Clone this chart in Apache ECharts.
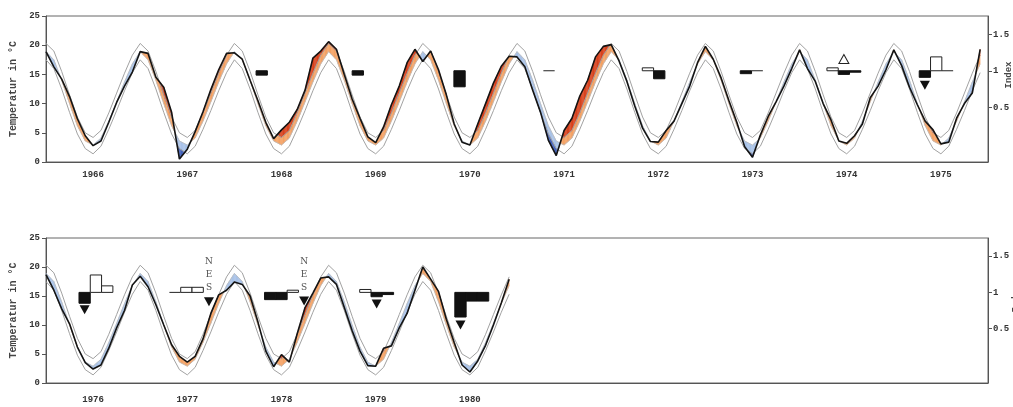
<!DOCTYPE html>
<html>
<head>
<meta charset="utf-8">
<script src="https://cdn.jsdelivr.net/npm/echarts@6/dist/echarts.min.js"></script>
<style>
html,body{margin:0;padding:0;background:#fff}
#main{width:1013px;height:407px}
</style>
</head>
<body>
<div id="main"></div>
<script>
// monthly climatology (k=0 at the year tick)
var climMean  = [18.9, 17.5, 14.0, 10.0, 6.2, 3.6, 2.9, 4.1, 7.0, 10.3, 13.7, 16.8];
var climUpper = [20.3, 19.0, 15.5, 11.5, 7.7, 5.0, 4.2, 5.4, 8.4, 11.8, 15.2, 18.3];
var climLower = [17.5, 16.0, 12.5, 8.5, 4.8, 2.3, 1.4, 2.7, 5.6, 8.8, 12.2, 15.3];

var yearsTop = ['1966','1967','1968','1969','1970','1971','1972','1973','1974','1975'];
var yearsBottom = ['1976','1977','1978','1979','1980','1981','1982','1983','1984','1985'];
var labelsBottom = ['1976','1977','1978','1979','1980'];

var indexTicks = [0.5, 1, 1.5];

// observed monthly temperature
var obsTop = [
  18.9, 16.3, 14.2, 11.2, 7.4, 4.5, 2.8, 3.6, 6.8, 10.2, 13.0, 15.4,   // 1966
  18.9, 18.6, 14.5, 12.8, 8.5, 0.5, 2.2, 5.2, 8.6, 12.4, 15.8, 18.6,   // 1967
  18.7, 17.6, 14.0, 10.5, 6.8, 4.0, 5.5, 6.8, 9.0, 12.3, 17.8, 19.0,   // 1968
  20.6, 19.3, 15.0, 10.8, 7.5, 4.3, 3.3, 6.0, 9.8, 13.0, 17.0, 19.3,   // 1969
  17.2, 19.0, 15.8, 11.5, 6.5, 3.4, 2.9, 6.5, 10.0, 13.5, 16.4, 18.1,  // 1970
  18.0, 16.3, 12.3, 8.5, 3.7, 1.1, 5.4, 7.5, 11.3, 14.0, 18.0, 19.8,   // 1971
  20.1, 17.3, 13.8, 9.6, 5.8, 3.5, 3.4, 5.4, 7.0, 10.0, 13.0, 17.0,    // 1972
  19.8, 17.6, 14.4, 10.5, 6.8, 2.6, 0.8, 4.6, 7.8, 10.3, 13.0, 16.0,   // 1973
  19.2, 16.0, 13.8, 10.0, 7.2, 3.6, 3.2, 4.5, 6.5, 11.0, 13.0, 15.8,   // 1974
  19.2, 16.5, 12.8, 9.8, 7.0, 5.5, 3.1, 3.4, 7.5, 10.0, 11.8, 19.3     // 1975
];
var obsBottom = [
  18.7, 16.0, 12.8, 10.2, 6.2, 3.5, 2.4, 3.1, 6.0, 9.5, 12.5, 16.9,    // 1976
  18.4, 16.6, 13.5, 10.0, 6.6, 4.6, 3.6, 4.6, 7.6, 12.0, 15.2, 16.0,   // 1977
  17.4, 17.0, 15.0, 10.5, 5.5, 2.8, 4.9, 3.6, 8.5, 13.0, 15.5, 18.1,   // 1978
  18.3, 17.0, 13.0, 9.0, 5.5, 3.0, 2.9, 6.0, 6.4, 9.5, 12.0, 16.0,     // 1979
  20.0, 17.9, 15.8, 11.0, 7.0, 3.1, 1.9, 3.8, 6.5, 10.0, 13.8, 17.9    // 1980
];

// index glyphs: centre (in years) and three bars (N, E, S)
var glyphXTop = [1968.41, 1969.43, 1970.51, 1971.46, 1972.51, 1973.43, 1974.47, 1975.45];
var glyphBarsTop = [
  [0.94, null, null], [0.94, null, null], [0.78, null, null], [1.0, null, null],
  [1.04, 0.89, null], [null, 0.96, 1.0], [1.04, 0.95, 0.98], [0.91, 1.19, 1.0]
];
var glyphXBottom = [1976.53, 1977.49, 1978.50, 1979.51, 1980.52];
var glyphBarsBottom = [
  [0.85, 1.24, 1.09], [1.0, 1.07, 1.07], [0.90, 0.90, 1.03], [1.04, 0.94, 0.97], [0.66, 0.88, 0.88]
];
// triangles: [glyph, slot, index value, direction]
var triTop = [[6, 1, 1.16, 'up'], [7, 0, 0.80, 'down']];
var triBottom = [[0, 0, 0.76, 'down'], [1, 3, 0.87, 'down'], [2, 3, 0.88, 'down'], [3, 1, 0.84, 'down'], [4, 0, 0.55, 'down']];
var nesGlyphs = [1, 2];
var nesLetters = ['N', 'E', 'S'];
var nesValues = [1.42, 1.24, 1.07];

var barW = 0.12;
var lightWarm = '#f4a164', darkWarm = '#d8431f', lightCold = '#a9c3e8', darkCold = '#4463ba';
var monoFont = 'Liberation Mono';

function monthly(vals, start) {
  var out = [];
  for (var i = 0; i < vals.length; i++) out.push([start + i / 12, vals[i]]);
  return out;
}
function climSeries(clim, start, n) {
  var vals = [];
  for (var i = 0; i < n; i++) vals.push(clim[i % 12]);
  return monthly(vals, start);
}
function fillData(obs, start) {
  var out = [];
  for (var i = 0; i < obs.length - 1; i++) {
    var a = i % 12, b = (i + 1) % 12;
    out.push([start + i / 12, start + (i + 1) / 12, obs[i], obs[i + 1],
      climMean[a], climMean[b], climUpper[a], climUpper[b], climLower[a], climLower[b]]);
  }
  return out;
}

function renderFill(params, api) {
  var v = [];
  for (var d = 0; d < 10; d++) v.push(api.value(d));
  var kids = [], n = 6;
  function at(i, f) { return v[i] + (v[i + 1] - v[i]) * f; }
  function poly(pts, col) {
    return { type: 'polygon', shape: { points: pts.map(function (p) { return api.coord(p); }) },
      style: { fill: col, stroke: col, lineWidth: 0.4 } };
  }
  for (var s = 0; s < n; s++) {
    var fa = s / n, fb = (s + 1) / n;
    var ta = at(0, fa), tb = at(0, fb);
    var oa = at(2, fa), ob = at(2, fb), ma = at(4, fa), mb = at(4, fb);
    var ua = at(6, fa), ub = at(6, fb), la = at(8, fa), lb = at(8, fb);
    var ca = Math.min(Math.max(oa, la), ua), cb = Math.min(Math.max(ob, lb), ub);
    var warm = (oa + ob) > (ma + mb);
    kids.push(poly([[ta, ma], [tb, mb], [tb, cb], [ta, ca]], warm ? lightWarm : lightCold));
    if (Math.abs(oa - ca) > 0.01 || Math.abs(ob - cb) > 0.01)
      kids.push(poly([[ta, ca], [tb, cb], [tb, ob], [ta, oa]], warm ? darkWarm : darkCold));
  }
  return { type: 'group', children: kids };
}

function glyphData(xs, bars) {
  var out = [];
  for (var g = 0; g < xs.length; g++)
    for (var s = 0; s < 3; s++)
      if (bars[g][s] != null) out.push([xs[g], s, bars[g][s]]);
  return out;
}
function renderGlyph(params, api) {
  var c = api.value(0), slot = api.value(1), val = api.value(2);
  var x0 = c + (slot - 1) * barW - barW / 2;
  var p0 = api.coord([x0, 1]), p1 = api.coord([x0 + barW, val]);
  if (Math.abs(val - 1) < 0.005) {
    return { type: 'line', shape: { x1: p0[0], y1: p0[1], x2: p1[0], y2: p0[1] },
      style: { stroke: '#222', lineWidth: 1 } };
  }
  return { type: 'rect',
    shape: { x: p0[0], y: Math.min(p0[1], p1[1]), width: p1[0] - p0[0], height: Math.abs(p1[1] - p0[1]) },
    style: val < 1 ? { fill: '#111', stroke: '#111', lineWidth: 1 } : { fill: '#fff', stroke: '#222', lineWidth: 1 } };
}
function triData(list, xs, dir) {
  return list.filter(function (t) { return t[3] === dir; }).map(function (t) {
    return [xs[t[0]] + (t[1] - 1) * barW, t[2]];
  });
}
function nesData(xs) {
  var out = [];
  nesGlyphs.forEach(function (g) {
    for (var i = 0; i < 3; i++) out.push([xs[g] + 2 * barW, nesValues[i], nesLetters[i]]);
  });
  return out;
}

var axisCol = '#555';
var lblStyle = { fontFamily: monoFont, fontWeight: 'bold', fontSize: 9, color: '#333' };

function panelAxes(grid, cats, min, labels, margin) {
  return [
    { type: 'category', gridIndex: grid, data: cats, boundaryGap: true,
      axisLine: { lineStyle: { color: axisCol } },
      axisTick: { length: 3, lineStyle: { color: axisCol } },
      axisLabel: Object.assign({ margin: margin, interval: 0,
        formatter: function (v) { return labels.indexOf(v) >= 0 ? v : ''; } }, lblStyle),
      splitLine: { show: false } },
    { type: 'value', gridIndex: grid, min: min, max: min + 10, show: false, splitLine: { show: false } }
  ];
}
function panelY(grid) {
  return [
    { type: 'value', gridIndex: grid, min: 0, max: 25, interval: 5, position: 'left',
      name: 'Temperatur in °C', nameLocation: 'middle', nameGap: 28,
      nameTextStyle: { fontFamily: monoFont, fontWeight: 'bold', fontSize: 10, color: '#444' },
      axisLine: { show: true, lineStyle: { color: axisCol } },
      axisTick: { show: true, length: 4, lineStyle: { color: axisCol } },
      axisLabel: Object.assign({ margin: 6 }, lblStyle),
      splitLine: { show: false } },
    { type: 'value', gridIndex: grid, min: -0.25, max: 1.75, position: 'right',
      axisLine: { show: true, lineStyle: { color: axisCol } },
      axisTick: { show: true, length: 4, customValues: indexTicks, lineStyle: { color: axisCol } },
      axisLabel: Object.assign({ margin: 5, customValues: indexTicks }, lblStyle),
      splitLine: { show: false } }
  ];
}

function panelSeries(xVal, yT, yI, obs, start, gx, gbars, tris) {
  var n = obs.length;
  var line = function (data, col, w, z) {
    return { type: 'line', xAxisIndex: xVal, yAxisIndex: yT, data: data, symbol: 'none',
      lineStyle: { color: col, width: w }, z: z, silent: true, animation: false };
  };
  return [
    { type: 'custom', xAxisIndex: xVal, yAxisIndex: yT, data: fillData(obs, start),
      renderItem: renderFill, z: 1, silent: true, animation: false },
    line(climSeries(climUpper, start, n), '#a2a2a2', 1, 2),
    line(climSeries(climLower, start, n), '#a2a2a2', 1, 2),
    line(climSeries(climMean, start, n), '#bbbbbb', 0.8, 2),
    line(monthly(obs, start), '#141414', 1.6, 3),
    { type: 'custom', xAxisIndex: xVal, yAxisIndex: yI, data: glyphData(gx, gbars),
      renderItem: renderGlyph, z: 4, silent: true, animation: false },
    { type: 'scatter', xAxisIndex: xVal, yAxisIndex: yI, data: triData(tris, gx, 'down'),
      symbol: 'triangle', symbolRotate: 180, symbolSize: [10, 9],
      itemStyle: { color: '#111', opacity: 1 }, z: 5, silent: true, animation: false },
    { type: 'scatter', xAxisIndex: xVal, yAxisIndex: yI, data: triData(tris, gx, 'up'),
      symbol: 'triangle', symbolSize: [10, 9],
      itemStyle: { color: '#fff', borderColor: '#222', borderWidth: 1, opacity: 1 }, z: 5, silent: true, animation: false }
  ];
}

var chart = echarts.init(document.getElementById('main'));
var xAxes = panelAxes(0, yearsTop, 1966, yearsTop, 8).concat(panelAxes(1, yearsBottom, 1976, labelsBottom, 12));
var yAxes = panelY(0).concat(panelY(1));

var series = panelSeries(1, 0, 1, obsTop, 1966, glyphXTop, glyphBarsTop, triTop)
  .concat(panelSeries(3, 2, 3, obsBottom, 1976, glyphXBottom, glyphBarsBottom, triBottom));
series.push({ type: 'scatter', xAxisIndex: 3, yAxisIndex: 3, data: nesData(glyphXBottom),
  symbolSize: 0, silent: true, animation: false, z: 6,
  label: { show: true, position: 'inside', formatter: function (p) { return p.data[2]; },
    fontFamily: 'DejaVu Serif', fontSize: 9, color: '#222' } });

chart.setOption({
  backgroundColor: '#fff',
  animation: false,
  grid: [
    { left: 43, top: 16, width: 945, height: 146, show: true, borderColor: '#666', borderWidth: 1 },
    { left: 43, top: 238, width: 945, height: 145, show: true, borderColor: '#666', borderWidth: 1 }
  ],
  xAxis: xAxes,
  yAxis: yAxes,
  series: series,
  graphic: [
    { type: 'text', x: 1009, y: 75, rotation: Math.PI / 2,
      style: { text: 'Index', font: 'bold 9px "Liberation Mono"', fill: '#444', align: 'center', verticalAlign: 'middle' } },
    { type: 'text', x: 1016, y: 299, rotation: Math.PI / 2,
      style: { text: 'Index', font: 'bold 9px "Liberation Mono"', fill: '#444', align: 'center', verticalAlign: 'middle' } }
  ]
});
</script>
</body>
</html>
